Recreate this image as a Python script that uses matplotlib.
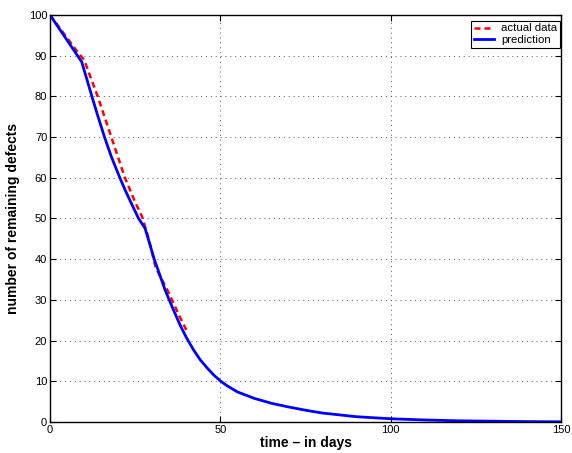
import matplotlib.pyplot as plt

plt.rcParams['font.family'] = ['Liberation Sans', 'DejaVu Sans']

# actual data (red dashed)
t_actual = [0, 4, 8, 10, 14, 18, 22, 25, 27, 29, 31, 35, 38, 40.5]
v_actual = [100, 95.5, 91, 89, 80, 70, 60, 54, 50.5, 45, 38, 31.5, 26, 21.8]

# prediction (blue)
t_pred = [0, 9.3, 11, 12.3, 14, 16, 18, 20.5, 22, 24, 26, 27.9, 30.6, 33.8,
          36, 38.2, 40, 42, 44, 46, 48, 50, 52, 55, 60, 65, 70, 75, 80, 90,
          100, 110, 120, 130, 140, 150]
v_pred = [100, 88.5, 83.7, 80, 75.3, 70, 65.2, 60, 57.1, 53.5, 50, 47.6, 40,
          32.4, 28, 23.8, 20.8, 17.9, 15.4, 13.4, 11.6, 10.1, 8.9, 7.4, 5.8,
          4.6, 3.7, 2.9, 2.2, 1.3, 0.8, 0.5, 0.3, 0.2, 0.1, 0.05]

fig = plt.figure(figsize=(5.72, 4.53), dpi=100)
ax = fig.add_axes([0.0874, 0.0684, 0.8934, 0.8986])

ax.plot(t_actual, v_actual, color='#ff0000', linestyle=(0, (2.4, 1.6)), linewidth=1.8,
        label='actual data')
ax.plot(t_pred, v_pred, color='#0000ff', linewidth=2.0, label='prediction')

ax.set_xlim(0, 150)
ax.set_ylim(0, 100)
ax.set_xticks([0, 50, 100, 150])
ax.set_yticks(range(0, 101, 10))
ax.tick_params(direction='in', top=True, right=True, labelsize=8, length=4, pad=2)
ax.grid(True, linestyle=(0, (1, 4)), color='#555555', linewidth=0.7)
for s in ax.spines.values():
    s.set_linewidth(1.0)

ax.set_xlabel('time – in days', fontsize=10, fontweight='bold', labelpad=1)
ax.set_ylabel('number of remaining defects', fontsize=10, fontweight='bold', labelpad=6)

leg = ax.legend(loc='upper right', bbox_to_anchor=(0.998, 0.986), fontsize=8.2,
                handlelength=1.75, borderpad=0.25, labelspacing=0.15,
                handletextpad=0.6, fancybox=False, borderaxespad=0, framealpha=1)
leg.get_frame().set_edgecolor('black')
leg.get_frame().set_linewidth(0.8)

fig.savefig('out.png', dpi=100)
